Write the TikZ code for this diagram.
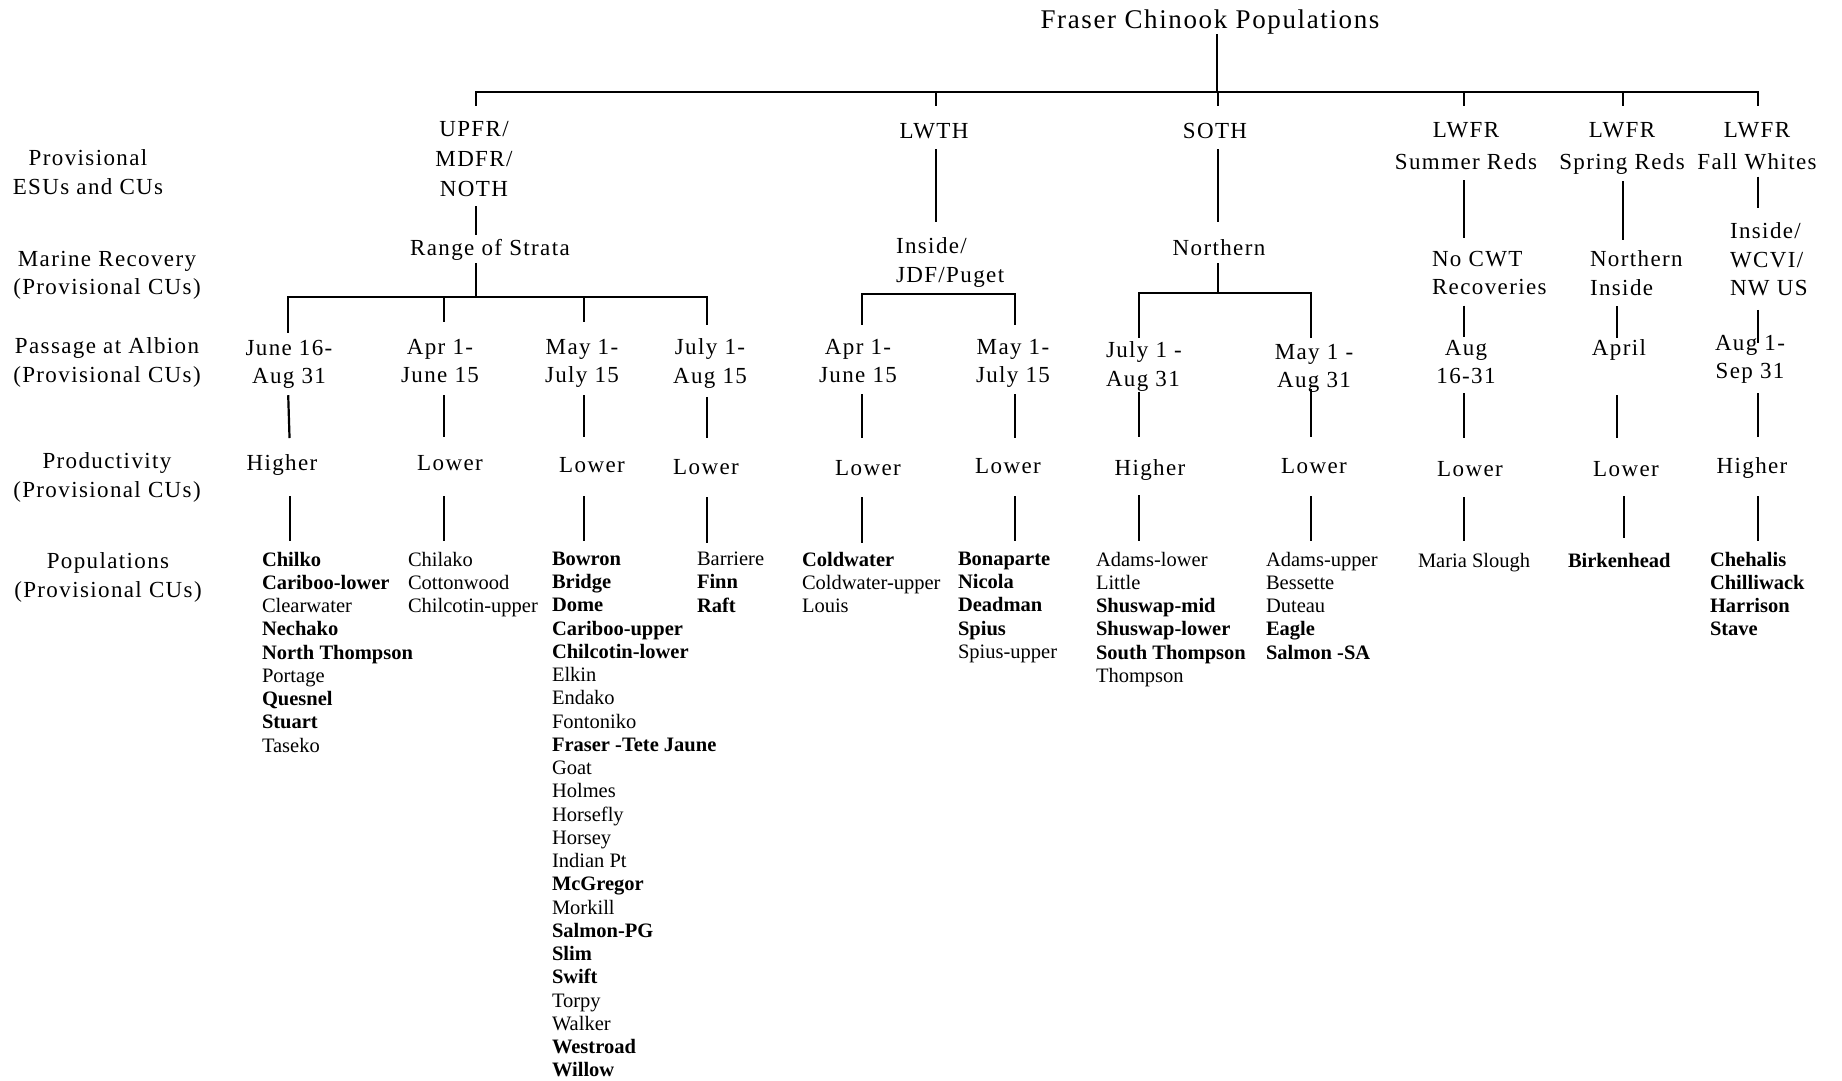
\documentclass[tikz,border=0pt]{standalone}
\usepackage{fontspec}
\setmainfont{Liberation Serif}
\newfontfamily\lsp[LetterSpace=6]{Liberation Serif}
\usetikzlibrary{calc}
\newcommand\mystL{\rule[-5pt]{0pt}{22pt}}
\newcommand\mystS{\rule[-5pt]{0pt}{20pt}}
\newcommand\mystT{\rule[-6pt]{0pt}{26pt}}
\begin{document}
\begin{tikzpicture}[x=1pt,y=-1pt,
  lab/.style={font=\lsp\fontsize{23}{28.5}\selectfont, inner sep=0pt, outer sep=0pt, align=center, anchor=north, execute at begin node=\mystL, execute at end node=\mystL},
  labl/.style={lab, align=left, anchor=north west},
  esu/.style={lab, font=\lsp\fontsize{23}{30}\selectfont},
  esuw/.style={lab, font=\lsp\fontsize{23}{32}\selectfont},
  ttl/.style={font=\lsp\fontsize{27}{32}\selectfont, inner sep=0pt, outer sep=0pt, anchor=base, execute at begin node=\mystT},
  pop/.style={font=\fontsize{20.5}{23.25}\selectfont, inner sep=0pt, outer sep=0pt, align=left, anchor=north west, execute at begin node=\mystS, execute at end node=\mystS},
  conn/.style={line width=2.2pt},
  bar/.style={line width=2.2pt, line cap=rect}]
\fill[white] (0,0) rectangle (1842,1080);
\useasboundingbox (0,0) rectangle (1842,1080);

% column coordinates
\coordinate (cU) at (476,0);
\coordinate (cLW) at (936,0);
\coordinate (cSO) at (1218,0);
\coordinate (cSR) at (1464,0);
\coordinate (cSP) at (1623,0);
\coordinate (cFW) at (1758,0);
\coordinate (k1a) at (288,0);
\coordinate (k1b) at (290,0);
\coordinate (k2) at (444,0);
\coordinate (k3) at (584,0);
\coordinate (k4) at (707,0);
\coordinate (k5) at (862,0);
\coordinate (k6) at (1015,0);
\coordinate (k7) at (1139,0);
\coordinate (k8) at (1311,0);
\coordinate (k9) at (1464,0);
\coordinate (k10a) at (1617,0);
\coordinate (k10b) at (1624,0);
\coordinate (k11) at (1758,0);
% bar coordinates
\coordinate (bTop) at (1217,92);
\coordinate (bRange) at (476,297);
\coordinate (bIns) at (936,294);
\coordinate (bNorth) at (1218,293);

% title
\node[ttl] (title) at (1210,28) {Fraser Chinook Populations};

% row labels
\node[lab] (L1) at (88,150) {Provisional\\ESUs and CUs};
\node[lab] (L2) at (107,251) {Marine Recovery\\(Provisional CUs)};
\node[lab] (L3) at (107,338) {Passage at Albion\\(Provisional CUs)};
\node[lab] (L4) at (107,453) {Productivity\\(Provisional CUs)};
\node[lab] (L5) at (108,553) {Populations\\(Provisional CUs)};

% row 1: ESUs
\node[esu] (upfr) at (474,121) {UPFR/\\MDFR/\\NOTH};
\node[esu] (lwth) at (934,121) {LWTH};
\node[esu] (soth) at (1215,121) {SOTH};
\node[esuw] (lwsr) at (1466,122) {LWFR\\Summer Reds};
\node[esuw] (lwsp) at (1622,122) {LWFR\\Spring Reds};
\node[esuw] (lwfw) at (1757,122) {LWFR\\Fall Whites};

% row 2: marine recovery
\node[lab] (range) at (490,238) {Range of Strata};
\node[labl] (insd) at (896,238) {Inside/\\JDF/Puget};
\node[lab] (north) at (1219,238) {Northern};
\node[labl] (nocwt) at (1432,251) {No CWT\\Recoveries};
\node[labl] (ninside) at (1590,251) {Northern\\Inside};
\node[labl] (wcvi) at (1730,223) {Inside/\\WCVI/\\NW US};

% row 3: passage at Albion
\node[lab] (p1) at (289,340) {June 16-\\Aug 31};
\node[lab] (p2) at (440,339) {Apr 1-\\June 15};
\node[lab] (p3) at (582,339) {May 1-\\July 15};
\node[lab] (p4) at (710,339) {July 1-\\Aug 15};
\node[lab] (p5) at (858,339) {Apr 1-\\June 15};
\node[lab] (p6) at (1013,339) {May 1-\\July 15};
\node[labl] (p7) at (1106,342) {July 1 -\\Aug 31};
\node[lab] (p8) at (1314,344) {May 1 -\\Aug 31};
\node[lab] (p9) at (1466,340) {Aug\\16-31};
\node[lab] (p10) at (1619,338) {April};
\node[lab] (p11) at (1750,335) {Aug 1-\\Sep 31};

% row 4: productivity
\node[lab] (q1) at (282,453) {Higher};
\node[lab] (q2) at (450,453) {Lower};
\node[lab] (q3) at (592,455) {Lower};
\node[lab] (q4) at (706,457) {Lower};
\node[lab] (q5) at (868,458) {Lower};
\node[lab] (q6) at (1008,456) {Lower};
\node[lab] (q7) at (1150,458) {Higher};
\node[lab] (q8) at (1314,456) {Lower};
\node[lab] (q9) at (1470,459) {Lower};
\node[lab] (q10) at (1626,459) {Lower};
\node[lab] (q11) at (1752,456) {Higher};

% row 5: populations
\node[pop] (r1) at (262,552) {\textbf{Chilko}\\\textbf{Cariboo-lower}\\Clearwater\\\textbf{Nechako}\\\textbf{North Thompson}\\Portage\\\textbf{Quesnel}\\\textbf{Stuart}\\Taseko};
\node[pop] (r2) at (408,552) {Chilako\\Cottonwood\\Chilcotin-upper};
\node[pop] (r3) at (552,552) {\textbf{Bowron}\\\textbf{Bridge}\\\textbf{Dome}\\\textbf{Cariboo-upper}\\\textbf{Chilcotin-lower}\\Elkin\\Endako\\Fontoniko\\\textbf{Fraser -Tete Jaune}\\Goat\\Holmes\\Horsefly\\Horsey\\Indian Pt\\\textbf{McGregor}\\Morkill\\\textbf{Salmon-PG}\\\textbf{Slim}\\\textbf{Swift}\\Torpy\\Walker\\\textbf{Westroad}\\\textbf{Willow}};
\node[pop] (r4) at (697,552) {Barriere\\\textbf{Finn}\\\textbf{Raft}};
\node[pop] (r5) at (802,552) {\textbf{Coldwater}\\Coldwater-upper\\Louis};
\node[pop] (r6) at (958,552) {\textbf{Bonaparte}\\\textbf{Nicola}\\\textbf{Deadman}\\\textbf{Spius}\\Spius-upper};
\node[pop] (r7) at (1096,552) {Adams-lower\\Little\\\textbf{Shuswap-mid}\\\textbf{Shuswap-lower}\\\textbf{South Thompson}\\Thompson};
\node[pop] (r8) at (1266,552) {Adams-upper\\Bessette\\Duteau\\\textbf{Eagle}\\\textbf{Salmon -SA}};
\node[pop] (r9) at (1418,552) {Maria Slough};
\node[pop] (r10) at (1568,552) {\textbf{Birkenhead}};
\node[pop] (r11) at (1710,552) {\textbf{Chehalis}\\\textbf{Chilliwack}\\\textbf{Harrison}\\\textbf{Stave}};

% ---- connectors ----
% title to top bar
\draw[conn] (title.south -| bTop) -- (bTop);
\draw[bar] (bTop -| cU) -- (bTop -| cFW);
\draw[conn, shorten >=15pt] (bTop -| cU) -- (upfr.north -| cU);
\draw[conn, shorten >=15pt] (bTop -| cLW) -- (lwth.north -| cLW);
\draw[conn, shorten >=15pt] (bTop -| cSO) -- (soth.north -| cSO);
\draw[conn, shorten >=16pt] (bTop -| cSR) -- (lwsr.north -| cSR);
\draw[conn, shorten >=16pt] (bTop -| cSP) -- (lwsp.north -| cSP);
\draw[conn, shorten >=16pt] (bTop -| cFW) -- (lwfw.north -| cFW);

% row 1 -> row 2
\draw[conn, shorten <=5pt, shorten >=3pt] (upfr.south -| cU) -- (range.north -| cU);
\draw[conn, shorten <=6pt, shorten >=16pt] (lwth.south -| cLW) -- (insd.north -| cLW);
\draw[conn, shorten <=6pt, shorten >=16pt] (soth.south -| cSO) -- (north.north -| cSO);
\draw[conn, shorten <=6pt, shorten >=13pt] (lwsr.south -| cSR) -- (nocwt.north -| cSR);
\draw[conn, shorten <=7pt, shorten >=11pt] (lwsp.south -| cSP) -- (ninside.north -| cSP);
\draw[conn, shorten <=2.5pt, shorten >=15pt] (lwfw.south -| cFW) -- (wcvi.north -| cFW);

% row 2 -> row 3
\draw[conn, shorten <=3pt] (range.south -| cU) -- (bRange);
\draw[bar] (bRange -| k1a) -- (bRange -| k4);
\draw[conn, shorten >=7pt] (bRange -| k1a) -- (p1.north -| k1a);
\draw[conn, shorten >=17pt] (bRange -| k2) -- (p2.north -| k2);
\draw[conn, shorten >=17pt] (bRange -| k3) -- (p3.north -| k3);
\draw[conn, shorten >=14pt] (bRange -| k4) -- (p4.north -| k4);
\draw[bar] (bIns -| k5) -- (bIns -| k6);
\draw[conn, shorten >=14pt] (bIns -| k5) -- (p5.north -| k5);
\draw[conn, shorten >=14pt] (bIns -| k6) -- (p6.north -| k6);
\draw[conn, shorten <=3pt] (north.south -| cSO) -- (bNorth);
\draw[bar] (bNorth -| k7) -- (bNorth -| k8);
\draw[conn, shorten >=4pt] (bNorth -| k7) -- (p7.north -| k7);
\draw[conn, shorten >=6pt] (bNorth -| k8) -- (p8.north -| k8);
\draw[conn, shorten <=6pt, shorten >=3pt] (nocwt.south -| k9) -- (p9.north -| k9);
\draw[conn, shorten <=6pt, shorten >=0pt] (ninside.south -| k10a) -- (p10.north -| k10a);
\draw[conn, shorten <=9pt, shorten >=-8pt] (wcvi.south -| k11) -- (p11.north -| k11);

% row 3 -> row 4
\draw[conn, shorten <=6.5pt, shorten >=15pt] (p1.south -| k1a) -- (q1.north -| k1b);
\draw[conn, shorten <=7.5pt, shorten >=16pt] (p2.south -| k2) -- (q2.north -| k2);
\draw[conn, shorten <=7.5pt, shorten >=18pt] (p3.south -| k3) -- (q3.north -| k3);
\draw[conn, shorten <=8.5pt, shorten >=19pt] (p4.south -| k4) -- (q4.north -| k4);
\draw[conn, shorten <=6.5pt, shorten >=20pt] (p5.south -| k5) -- (q5.north -| k5);
\draw[conn, shorten <=6.5pt, shorten >=18pt] (p6.south -| k6) -- (q6.north -| k6);
\draw[conn, shorten <=0.5pt, shorten >=21pt] (p7.south -| k7) -- (q7.north -| k7);
\draw[conn, shorten <=-3.5pt, shorten >=19pt] (p8.south -| k8) -- (q8.north -| k8);
\draw[conn, shorten <=4.5pt, shorten >=21pt] (p9.south -| k9) -- (q9.north -| k9);
\draw[conn, shorten <=35pt, shorten >=21pt] (p10.south -| k10a) -- (q10.north -| k10a);
\draw[conn, shorten <=9.5pt, shorten >=19pt] (p11.south -| k11) -- (q11.north -| k11);

% row 4 -> row 5
\draw[conn, shorten <=21pt, shorten >=11pt] (q1.south -| k1b) -- (r1.north -| k1b);
\draw[conn, shorten <=21pt, shorten >=11pt] (q2.south -| k2) -- (r2.north -| k2);
\draw[conn, shorten <=19pt, shorten >=11pt] (q3.south -| k3) -- (r3.north -| k3);
\draw[conn, shorten <=18pt, shorten >=9pt] (q4.south -| k4) -- (r4.north -| k4);
\draw[conn, shorten <=17pt, shorten >=9pt] (q5.south -| k5) -- (r5.north -| k5);
\draw[conn, shorten <=18pt, shorten >=11pt] (q6.south -| k6) -- (r6.north -| k6);
\draw[conn, shorten <=15pt, shorten >=11pt] (q7.south -| k7) -- (r7.north -| k7);
\draw[conn, shorten <=18pt, shorten >=11pt] (q8.south -| k8) -- (r8.north -| k8);
\draw[conn, shorten <=16pt, shorten >=11pt] (q9.south -| k9) -- (r9.north -| k9);
\draw[conn, shorten <=15pt, shorten >=14pt] (q10.south -| k10b) -- (r10.north -| k10b);
\draw[conn, shorten <=18pt, shorten >=11pt] (q11.south -| k11) -- (r11.north -| k11);
\end{tikzpicture}
\end{document}
